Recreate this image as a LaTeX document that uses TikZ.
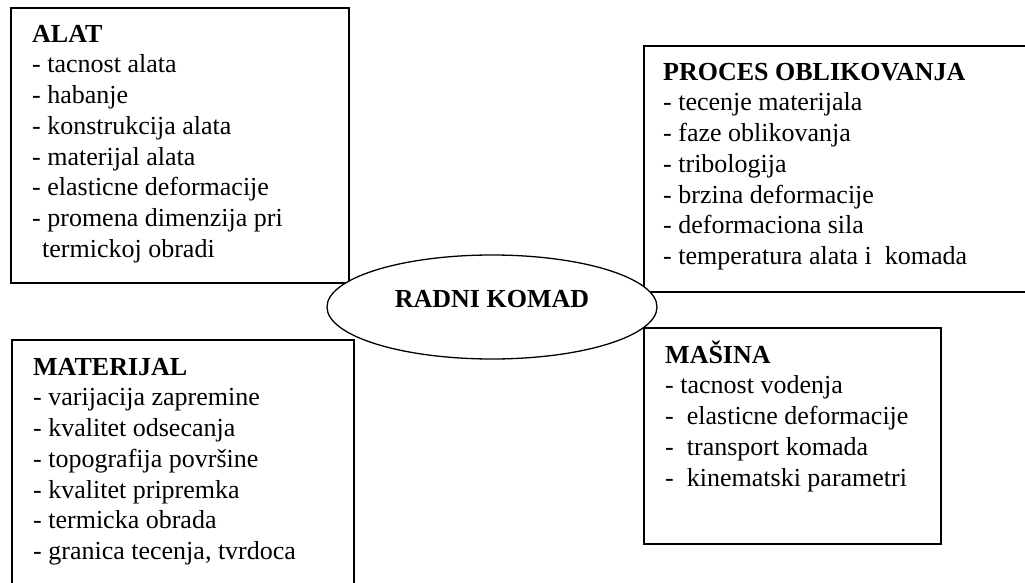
\documentclass[tikz,border=0pt]{standalone}
\usepackage{fontspec}
\setmainfont{Liberation Serif}
\usepackage{xcolor}
\usepackage{tikz}
\usetikzlibrary{positioning,shapes.geometric}
\definecolor{ink}{HTML}{000000}
\newcommand{\firstline}{\rule{0pt}{24pt}}

\begin{document}
\begin{tikzpicture}[
  x={(1pt,0)}, y={(0,-1pt)},
  factor/.style={draw=ink, line width=1.3pt, fill=white, anchor=north west, inner sep=0pt, outer sep=0pt},
  items/.style={anchor=north west, align=left, inner sep=0pt, text=ink, font=\fontsize{26}{30.7}\selectfont},
  core/.style={ellipse, draw=ink, line width=1.3pt, fill=white, minimum width=330pt, minimum height=104pt, inner sep=0pt, text height=17pt, text depth=17pt, font=\fontsize{26}{30}\selectfont\bfseries}
]
  \clip (0,0) rectangle (1025,583);
  % the four groups of factors
  \node[factor, minimum width=338pt, minimum height=275pt] (alat) at (11,8) {};
  \node[factor, minimum width=400pt, minimum height=246pt] (proces) at (644,46) {};
  \node[factor, minimum width=342pt, minimum height=270pt] (materijal) at (12,340) {};
  \node[factor, minimum width=297pt, minimum height=216pt] (masina) at (644,328) {};
  \node[items] (alat-t) at ([shift={(21,10)}]alat.north west)
    {\firstline\textbf{ALAT}\\- tacnost alata\\- habanje\\- konstrukcija alata\\- materijal alata\\- elasticne deformacije\\- promena dimenzija pri\\\hspace*{10pt}termickoj obradi};
  \node[items] (proces-t) at ([shift={(19,10)}]proces.north west)
    {\firstline\textbf{PROCES OBLIKOVANJA}\\- tecenje materijala\\- faze oblikovanja\\- tribologija\\- brzina deformacije\\- deformaciona sila\\- temperatura alata i \ komada};
  \node[items] (materijal-t) at ([shift={(21,11)}]materijal.north west)
    {\firstline\textbf{MATERIJAL}\\- varijacija zapremine\\- kvalitet odsecanja\\- topografija površine\\- kvalitet pripremka\\- termicka obrada\\- granica tecenja, tvrdoca};
  \node[items] (masina-t) at ([shift={(21,11)}]masina.north west)
    {\firstline\textbf{MAŠINA}\\- tacnost vodenja\\- \ elasticne deformacije\\- \ transport komada\\- \ kinematski parametri};
  % the work piece in the middle
  \node[core] (komad) at (492,307) {RADNI KOMAD};
\end{tikzpicture}
\end{document}
